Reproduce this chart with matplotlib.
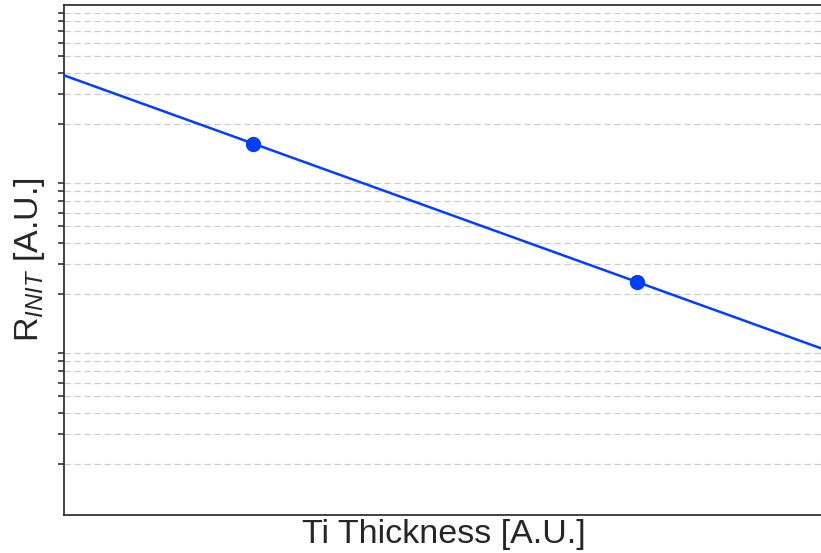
import numpy as np
import matplotlib
matplotlib.use("Agg")
import matplotlib.pyplot as plt
from matplotlib.ticker import LogLocator, NullFormatter, NullLocator

# data (arbitrary units)
thickness = [1.0, 3.0]
r_init = [153.0, 23.5]
x_range = [0.013, 3.97]
y_range = [1.0, 1000.0]

plt.rcParams['font.family'] = ['Liberation Sans', 'DejaVu Sans']
plt.rcParams['mathtext.fontset'] = 'custom'
plt.rcParams['mathtext.rm'] = 'Liberation Sans'
plt.rcParams['mathtext.it'] = 'Liberation Sans:italic'

fig = plt.figure(figsize=(8.21, 5.53), dpi=100)
ax = fig.add_axes([64/821, 38/553, 759/821, 510/553])

# exponential fit through points, extended across axis
coef = np.polyfit(thickness, np.log10(r_init), 1)
xl = np.array(x_range)
yl = 10 ** np.polyval(coef, xl)

color = '#023eff'
ax.plot(xl, yl, color=color, lw=1.8, zorder=3)
ax.plot(thickness, r_init, 'o', color=color, ms=10, zorder=4)

ax.set_yscale('log')
ax.set_xlim(*x_range)
ax.set_ylim(*y_range)

ax.yaxis.set_major_locator(NullLocator())
ax.yaxis.set_minor_locator(LogLocator(base=10, subs=np.arange(2, 10)))
ax.yaxis.set_minor_formatter(NullFormatter())
ax.xaxis.set_major_locator(NullLocator())
ax.xaxis.set_minor_locator(NullLocator())
ax.tick_params(axis='y', which='minor', length=4, width=1.2, color='#333333', direction='out')

ax.grid(True, which='minor', axis='y', color='#cccccc', lw=0.9, linestyle=(0, (5, 3)))
ax.set_axisbelow(True)

for s in ax.spines.values():
    s.set_color('#333333')
    s.set_linewidth(1.3)

ax.set_xlabel('Ti Thickness [A.U.]', fontsize=24.5, color='#262626')
ax.set_ylabel('R$_{INIT}$ [A.U.]', fontsize=24.5, color='#262626')
ax.xaxis.set_label_coords(0.5, -0.008)
ax.yaxis.set_label_coords(-0.022, 0.5)

fig.savefig('out.png', dpi=100)
